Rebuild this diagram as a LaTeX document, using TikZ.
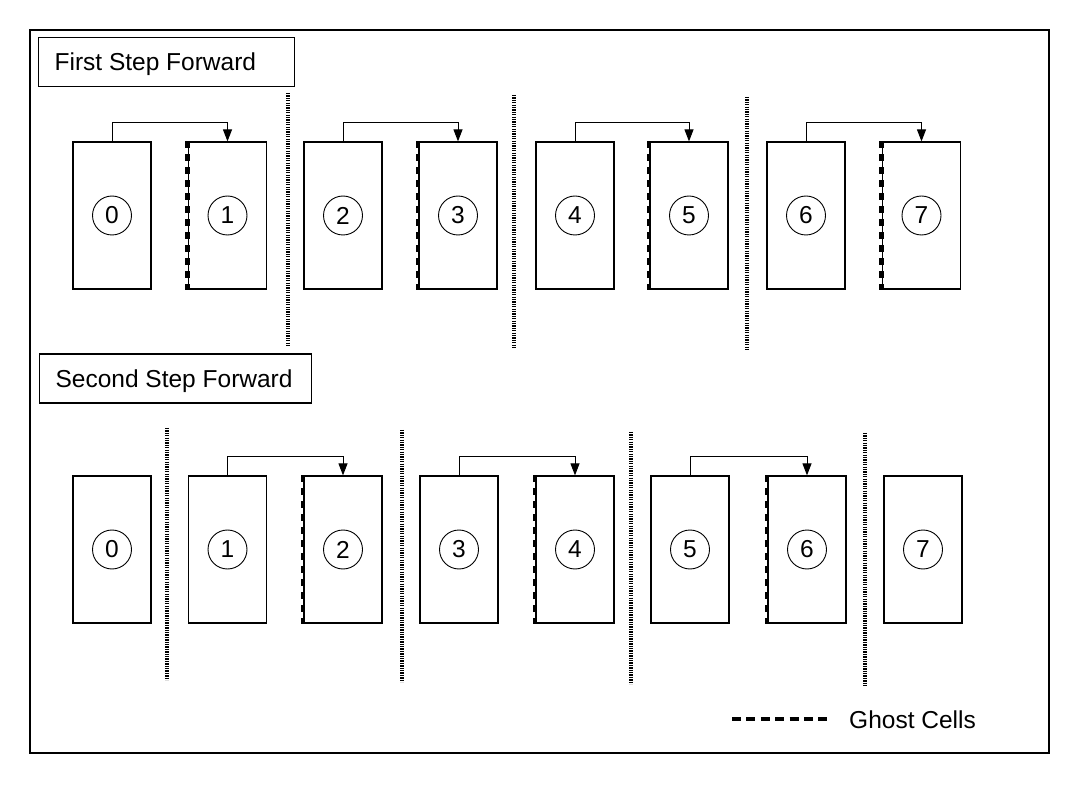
\documentclass[tikz,border=0pt]{standalone}
\usepackage{fontspec}
\setmainfont{Liberation Sans}
\usetikzlibrary{arrows.meta}
\begin{document}
\begin{tikzpicture}[x=1pt,y=-1pt,
  every node/.style={font=\fontsize{24.5}{29}\selectfont},
  cellbox/.style={draw,line width=1.2pt,minimum width=78pt,minimum height=147pt,inner sep=0pt},
  rank/.style={draw,circle,line width=0.9pt,minimum size=39pt,inner sep=0pt},
  titlebox/.style={draw,line width=1.2pt,anchor=west,inner xsep=16pt,inner ysep=0pt,minimum height=49pt,text height=17.6pt,text depth=0pt},
  sep/.style={line width=3.5pt,dash pattern=on 1.3pt off 1.1pt},
  ghost/.style={line width=4.4pt,dash pattern=on 7pt off 6pt},
  flow/.style={line width=1pt,-{Triangle[length=12pt,width=9pt]}}]
\useasboundingbox (0,0) rectangle (1080,810);
\draw[line width=1.8pt] (30,30) rectangle (1049,753);
% titles
\node[titlebox] (title1) at (38,62) {\makebox[224pt][l]{First Step Forward}};
\node[titlebox] (title2) at (39,378.5) {\makebox[240pt][l]{Second Step Forward}};
% top row
\foreach \i/\x in {0/112,1/227.5,2/343,3/458,4/575,5/689,6/806,7/921.5}{
  \node[cellbox] (t\i) at (\x,215.5) {};
  \node[rank] (ct\i) at (t\i.center) {\i};
}
\foreach \a/\b in {0/1,2/3,4/5,6/7}{
  \draw[flow] (t\a.north) -- ++(0,-19) -| (t\b.north);
  \draw[ghost] ([xshift=-0.6pt]t\b.north west) -- ([xshift=-0.6pt]t\b.south west);
}
\coordinate (s1a) at (288,93);  \coordinate (s1b) at (288,347);
\coordinate (s2a) at (514,95);  \coordinate (s2b) at (514,349);
\coordinate (s3a) at (747,97);  \coordinate (s3b) at (747,351);
\draw[sep] (s1a) -- (s1b);
\draw[sep] (s2a) -- (s2b);
\draw[sep] (s3a) -- (s3b);
% bottom row
\foreach \i/\x in {0/112,1/227.5,2/343,3/459,4/575,5/690,6/807,7/923}{
  \node[cellbox] (u\i) at (\x,549.5) {};
  \node[rank] (cu\i) at (u\i.center) {\i};
}
\foreach \a/\b in {1/2,3/4,5/6}{
  \draw[flow] (u\a.north) -- ++(0,-19) -| (u\b.north);
  \draw[ghost] ([xshift=-0.6pt]u\b.north west) -- ([xshift=-0.6pt]u\b.south west);
}
\coordinate (r1a) at (167,428);  \coordinate (r1b) at (167,680);
\coordinate (r2a) at (402,430);  \coordinate (r2b) at (402,682);
\coordinate (r3a) at (631,432);  \coordinate (r3b) at (631,684);
\coordinate (r4a) at (865,433);  \coordinate (r4b) at (865,686);
\draw[sep] (r1a) -- (r1b);
\draw[sep] (r2a) -- (r2b);
\draw[sep] (r3a) -- (r3b);
\draw[sep] (r4a) -- (r4b);
% legend
\coordinate (la) at (732,719);
\coordinate (lb) at (832,719);
\draw[line width=4pt,dash pattern=on 9pt off 5.4pt] (la) -- (lb);
\node[anchor=west,inner sep=0pt] (legend) at (849,720) {Ghost Cells};
\end{tikzpicture}
\end{document}
